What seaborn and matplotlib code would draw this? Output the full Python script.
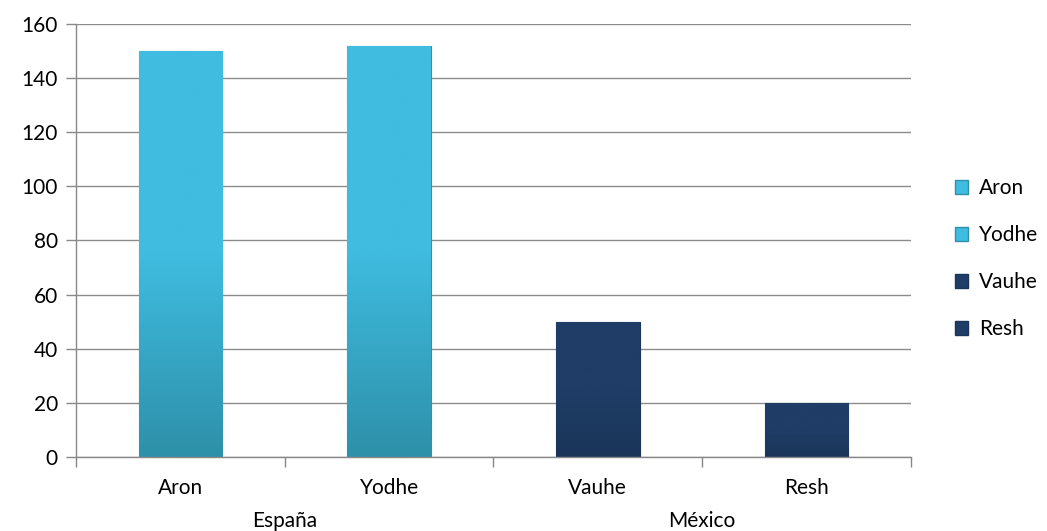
import matplotlib
matplotlib.use("Agg")
import matplotlib.pyplot as plt
import matplotlib.colors as mcolors
from matplotlib.patches import Patch
import numpy as np
import pandas as pd
import seaborn as sns

categories = ["Aron", "Yodhe", "Vauhe", "Resh"]
groups = ["España", "España", "México", "México"]
values = [150, 152, 50, 20]
group_names = ["España", "México"]
yticks = [0, 20, 40, 60, 80, 100, 120, 140, 160]

top_colors = {"España": "#3FBCE0", "México": "#1F3D66"}
bottom_colors = {"España": "#2E90A9", "México": "#1A3558"}

sns.set_theme(style="white")
plt.rcParams["font.family"] = ["Lato", "DejaVu Sans"]
plt.rcParams["text.color"] = "black"

df = pd.DataFrame({"cat": categories, "grp": groups, "val": values})

fig = plt.figure(figsize=(10.47, 5.31), dpi=100)
ax = fig.add_axes([0.0726, 0.1394, 0.7974, 0.8154])

sns.barplot(data=df, x="cat", y="val", hue="grp", palette=top_colors,
            width=0.4, dodge=False, legend=False, ax=ax, zorder=3)

# vertical gradient inside each bar
for patch, grp in zip(ax.patches, groups):
    x0, y0 = patch.get_x(), patch.get_y()
    w, h = patch.get_width(), patch.get_height()
    cmap = mcolors.LinearSegmentedColormap.from_list(
        "g", [bottom_colors[grp], top_colors[grp], top_colors[grp]])
    grad = np.linspace(0, 1, 256).reshape(-1, 1)
    im = ax.imshow(grad, extent=[x0, x0 + w, y0, y0 + h], origin="lower",
                   aspect="auto", cmap=cmap, zorder=3.5)
    im.set_clip_path(patch)
    patch.set_edgecolor(bottom_colors[grp])
    patch.set_linewidth(0.8)

ax.set_xlim(-0.5, 3.5)
ax.set_ylim(0, 160)
ax.set_yticks(yticks)
ax.set_yticklabels([str(t) for t in yticks], fontsize=15, color="#000000")
ax.set_xticks(range(len(categories)))
ax.set_xticklabels(categories, fontsize=15, color="#000000")
ax.set_xticks(np.arange(-0.5, 3.6, 1.0), minor=True)
ax.tick_params(axis="x", which="major", length=0, pad=15, bottom=True)
ax.tick_params(axis="x", which="minor", length=7, width=1, color="#888888",
               direction="out", bottom=True)
ax.tick_params(axis="y", length=7, width=1, color="#888888", direction="out",
               pad=6, left=True)
ax.set_xlabel("")
ax.set_ylabel("")

ax.yaxis.grid(True, color="#8C8C8C", linewidth=1)
ax.set_axisbelow(True)
for s in ["top", "right"]:
    ax.spines[s].set_visible(False)
for s in ["left", "bottom"]:
    ax.spines[s].set_color("#888888")
    ax.spines[s].set_linewidth(1)
    ax.spines[s].set_zorder(5)

trans = ax.get_xaxis_transform()
for gi, g in enumerate(group_names):
    idx = [i for i, gg in enumerate(groups) if gg == g]
    xc = (idx[0] + idx[-1]) / 2
    ax.text(xc, -0.147, g, transform=trans, ha="center", va="center",
            fontsize=15, color="black")

handles = [Patch(facecolor=top_colors[g], edgecolor=bottom_colors[g]) for g in groups]
fig.legend(handles, categories, loc="center left", bbox_to_anchor=(0.894, 0.513),
           frameon=False, fontsize=15, handlelength=0.65, handleheight=0.65,
           handletextpad=0.5, labelspacing=1.3)

fig.savefig("out.png", dpi=100)
